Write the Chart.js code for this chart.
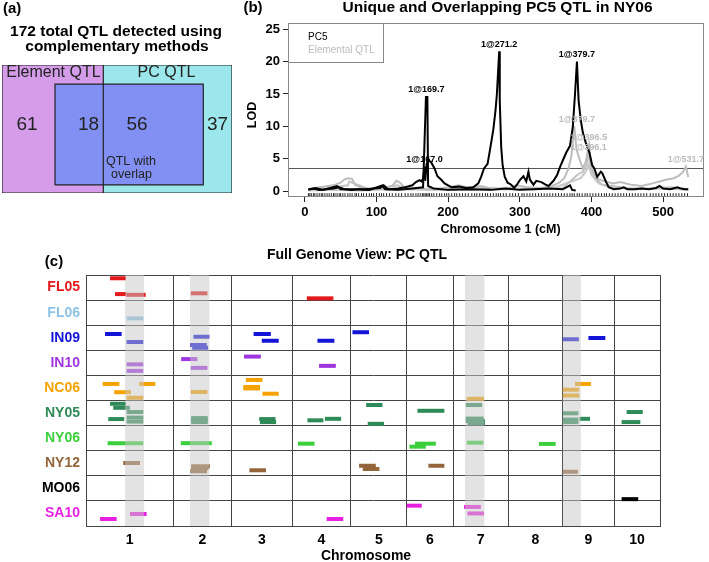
<!DOCTYPE html>
<html>
<head>
<meta charset="utf-8">
<script src="https://cdn.jsdelivr.net/npm/chart.js@4.4.0/dist/chart.umd.min.js"></script>
<style>
  body { margin: 0; background: #fff; width: 709px; height: 562px; position: relative; overflow: hidden; }
  canvas { position: absolute; }
</style>
</head>
<body>
<canvas id="chartA" width="240" height="200" style="left:0;top:0"></canvas>
<canvas id="chartB" width="469" height="245" style="left:240px;top:0"></canvas>
<canvas id="chartC" width="709" height="317" style="left:0;top:245px"></canvas>
<script>
// ---------- panel (a): QTL counts ----------
const vennGroups = ["Element QTL", "PC QTL"];
const vennCounts = [61, 18, 56, 37];

// ---------- panel (b): LOD curves on chromosome 1 ----------
const pc5Pos = [5, 12, 20, 30, 40, 48, 55, 65, 75, 85, 95, 105, 110, 116, 130, 140, 150, 155, 160, 163, 165, 167, 168, 170, 172, 176, 181, 185, 190, 195, 200, 205, 215, 225, 235, 242, 246, 250, 255, 259, 263, 266, 268, 271.2, 272, 274, 276, 279, 283, 288, 292, 296, 300, 305, 309, 312, 314, 319, 323, 330, 336, 340, 347, 352, 356, 361, 365, 370, 374, 377, 379.7, 382, 385, 388, 392, 397, 401, 404, 408, 413, 415, 420, 424, 431, 440, 445, 450, 460, 470, 480, 490, 495, 500, 510, 520, 525, 530, 535];
const pc5Lod = [0.3, 0.4, 0.2, 0.3, 0.4, 0.6, 0.3, 0.2, 0.3, 0.3, 0.4, 0.5, 0.9, 0.3, 0.4, 0.6, 0.9, 1.4, 1.7, 1.5, 2.0, 3.8, 1.6, 4.2, 4.8, 4.5, 3.5, 2.3, 1.8, 1.2, 0.9, 0.6, 0.7, 0.5, 0.6, 1.2, 2.2, 3.5, 4.2, 6.8, 9.5, 12.4, 15.0, 21.6, 14.0, 6.8, 4.0, 2.2, 1.3, 1.0, 0.5, 1.0, 1.7, 2.3, 1.5, 3.0, 1.8, 1.0, 1.6, 1.4, 1.0, 0.8, 1.6, 2.5, 3.7, 5.0, 6.0, 7.0, 10.0, 15.0, 20.0, 14.0, 11.0, 9.0, 7.5, 6.0, 4.0, 3.5, 2.2, 3.0, 2.8, 1.5, 0.6, 0.3, 0.4, 0.6, 0.3, 0.3, 0.4, 0.3, 0.5, 0.8, 0.4, 0.3, 0.6, 0.4, 0.3, 0.3];
const pc5bPos = [5, 15, 25, 45, 50, 70, 90, 108, 112, 130, 150, 165, 169, 171, 172, 180, 200, 230, 260, 280, 300, 320, 340, 360, 370, 373, 378];
const pc5bLod = [0.2, 0.5, 0.2, 0.8, 0.3, 0.3, 0.2, 0.9, 0.3, 0.2, 0.4, 0.6, 14.55, 14.55, 0.8, 0.4, 0.2, 0.3, 0.2, 0.4, 0.2, 0.3, 0.4, 0.3, 0.9, 0.2, 0.1];
const elem1Pos = [5, 20, 40, 50, 55, 60, 66, 70, 80, 95, 110, 122, 128, 133, 140, 160, 180, 200, 215, 230, 245, 260, 280, 295, 310, 330, 345, 355, 362, 368, 372, 376, 379, 383, 388, 392, 396.5, 399, 404, 410, 420, 430, 440, 455, 470, 485, 495, 505, 515, 522, 528, 531.7, 535];
const elem1Lod = [0.3, 0.6, 0.9, 1.3, 1.8, 2.0, 1.9, 1.0, 0.5, 0.3, 0.4, 0.8, 1.6, 1.3, 0.5, 0.4, 0.3, 0.6, 0.9, 0.5, 0.8, 0.4, 0.3, 0.9, 0.6, 0.5, 0.8, 1.3, 2.0, 3.5, 5.5, 10.0, 6.5, 5.0, 3.5, 4.5, 7.2, 4.0, 2.5, 1.8, 1.5, 1.2, 1.4, 1.0, 0.8, 1.2, 1.5, 1.8, 2.0, 2.4, 3.0, 3.8, 2.2];
const elem2Pos = [5, 30, 60, 62, 90, 130, 135, 170, 210, 250, 290, 330, 360, 370, 380, 388, 393, 396.1, 399, 405, 415, 430, 450, 480, 510, 535];
const elem2Lod = [0.2, 0.4, 0.9, 1.5, 0.3, 0.9, 0.6, 0.2, 0.3, 0.5, 0.4, 0.3, 0.5, 1.5, 2.5, 3.0, 4.0, 5.7, 3.5, 2.0, 1.0, 0.8, 0.5, 0.4, 0.6, 0.3];
const elem3Pos = [5, 40, 80, 120, 200, 300, 350, 372, 385, 392, 396, 400, 410, 425, 460, 500, 535];
const elem3Lod = [0.1, 0.2, 0.1, 0.3, 0.2, 0.3, 0.6, 1.5, 2.0, 3.0, 4.0, 2.5, 1.2, 0.6, 0.3, 0.4, 0.2];
const markerPos = [5, 7, 9, 12, 14, 17, 20, 23, 25, 28, 31, 34, 37, 40, 42, 45, 48, 50, 53, 56, 60, 63, 66, 70, 72, 75, 79, 82, 86, 90, 93, 96, 100, 104, 107, 110, 114, 118, 122, 127, 131, 135, 140, 144, 148, 151, 155, 158, 161, 164, 166, 168, 170, 172, 174, 177, 180, 184, 188, 191, 195, 198, 201, 205, 209, 212, 216, 220, 224, 228, 233, 237, 240, 244, 248, 252, 255, 259, 263, 267, 270, 273, 277, 281, 286, 290, 294, 298, 303, 306, 310, 314, 318, 322, 326, 330, 334, 338, 342, 346, 350, 354, 358, 362, 366, 370, 373, 376, 380, 383, 387, 391, 394, 398, 402, 406, 410, 414, 418, 421, 425, 429, 433, 437, 441, 445, 449, 453, 457, 461, 465, 469, 473, 477, 482, 486, 490, 494, 498, 502, 506, 510, 514, 518, 522, 526, 530, 534];
const lodThreshold = 3.5;
const pc5PeakNames = ["1@169.7", "1@167.0", "1@271.2", "1@379.7"];
const pc5PeakPos = [169.7, 167.0, 271.2, 379.7];
const pc5PeakLod = [14.55, 3.8, 21.6, 20.0];
const elemPeakNames = ["1@379.7", "1@396.5", "1@396.1", "1@531.7"];
const elemPeakPos = [379.7, 396.5, 396.1, 531.7];
const elemPeakLod = [10.0, 7.2, 5.7, 3.8];
const lodTicks = [0, 5, 10, 15, 20, 25];
const cmTicks = [0, 100, 200, 300, 400, 500];

// ---------- panel (c): PC QTL across the genome ----------
const traits = ["FL05", "FL06", "IN09", "IN10", "NC06", "NY05", "NY06", "NY12", "MO06", "SA10"];
const chromNames = ["1", "2", "3", "4", "5", "6", "7", "8", "9", "10"];
const chromLen = [540, 364, 374, 364, 347, 287, 341, 339, 318, 285];
const overlapChrom = [1, 2, 7, 9];
const overlapStart = [242, 105, 74, 0];
const overlapEnd = [360, 225, 194, 112];
// [chromosome, start cM, end cM, place in row]
const qtlFL05 = [[1, 149, 248, 0.13], [1, 180, 250, 0.76], [1, 250, 370, 0.79], [2, 110, 213, 0.73], [4, 91, 256, 0.93]];
const qtlFL06 = [[1, 252, 355, 0.73]];
const qtlIN09 = [[1, 118, 221, 0.35], [1, 252, 355, 0.67], [2, 126, 225, 0.46], [2, 105, 209, 0.79], [2, 118, 217, 0.9], [3, 135, 242, 0.35], [3, 186, 291, 0.62], [4, 157, 262, 0.62], [5, 10, 113, 0.28], [9, 0, 100, 0.56], [9, 159, 264, 0.51]];
const qtlIN10 = [[1, 252, 355, 0.56], [1, 252, 355, 0.82], [2, 50, 151, 0.35], [2, 110, 213, 0.7], [3, 76, 180, 0.25], [4, 167, 271, 0.62]];
const qtlNC06 = [[1, 103, 207, 0.34], [1, 330, 430, 0.34], [1, 175, 279, 0.67], [1, 252, 355, 0.89], [2, 110, 213, 0.66], [3, 87, 190, 0.18], [3, 72, 175, 0.46], [3, 72, 175, 0.52], [3, 190, 291, 0.73], [7, 85, 192, 0.93], [9, 76, 175, 0.34], [9, 0, 102, 0.57], [9, 0, 102, 0.8]];
const qtlNY05 = [[1, 149, 248, 0.13], [1, 169, 273, 0.29], [1, 252, 355, 0.46], [1, 138, 237, 0.74], [1, 252, 355, 0.68], [1, 252, 355, 0.84], [2, 112, 215, 0.7], [2, 112, 215, 0.78], [2, 112, 215, 0.86], [3, 170, 271, 0.74], [3, 175, 275, 0.86], [4, 95, 194, 0.79], [4, 203, 304, 0.73], [5, 95, 196, 0.18], [5, 105, 206, 0.93], [6, 66, 233, 0.41], [7, 79, 180, 0.18], [7, 79, 190, 0.72], [7, 79, 198, 0.82], [7, 90, 198, 0.9], [9, 0, 97, 0.51], [9, 0, 97, 0.76], [9, 0, 97, 0.86], [9, 103, 169, 0.73], [10, 78, 178, 0.46], [10, 47, 163, 0.86]];
const qtlNY06 = [[1, 134, 355, 0.7], [2, 48, 240, 0.7], [4, 36, 139, 0.72], [6, 16, 118, 0.84], [6, 51, 180, 0.72], [7, 85, 188, 0.68], [8, 192, 295, 0.73]];
const qtlNY12 = [[1, 231, 335, 0.49], [2, 112, 229, 0.62], [2, 112, 220, 0.7], [2, 105, 210, 0.82], [3, 109, 212, 0.78], [5, 51, 155, 0.6], [5, 74, 177, 0.73], [6, 134, 233, 0.6], [9, 0, 94, 0.84]];
const qtlMO06 = [[10, 47, 150, 0.93]];
const qtlSA10 = [[1, 87, 190, 0.72], [1, 273, 376, 0.52], [4, 214, 317, 0.72], [6, 0, 93, 0.19], [7, 68, 172, 0.24], [7, 89, 192, 0.5]];

const qtlSets = [qtlFL05, qtlFL06, qtlIN09, qtlIN10, qtlNC06, qtlNY05, qtlNY06, qtlNY12, qtlMO06, qtlSA10];
const traitColors = ["#e31a1c", "#8ec3e6", "#1414d8", "#a035e0", "#f5a300", "#2e8b57", "#3ccf3c", "#94643a", "#000000", "#e81ee0"];

const FONT = "'Liberation Sans', Arial, sans-serif";
Chart.defaults.font.family = FONT;
Chart.defaults.color = "#000";

function rect(x0, y0, x1, y1) {
  return [{ x: x0, y: y0 }, { x: x1, y: y0 }, { x: x1, y: y1 }, { x: x0, y: y1 }, { x: x0, y: y0 }];
}
function toPoints(xs, ys) {
  return xs.map((x, i) => ({ x: x, y: ys[i] }));
}

// draws a list of texts; items with data:true are placed through the scales
function textPlugin(getItems) {
  return {
    id: "texts",
    afterDraw(chart) {
      const ctx = chart.ctx;
      getItems(chart).forEach((t) => {
        let x = t.x, y = t.y;
        if (t.data) {
          x = chart.scales.x.getPixelForValue(t.x);
          y = chart.scales.y.getPixelForValue(t.y) + (t.dy || 0);
        }
        ctx.save();
        ctx.font = t.font;
        ctx.fillStyle = t.color || "#000";
        ctx.textAlign = t.align || "center";
        ctx.textBaseline = "middle";
        ctx.translate(x, y);
        if (t.rotate) ctx.rotate(t.rotate);
        ctx.fillText(t.text, 0, 0);
        ctx.restore();
      });
    },
  };
}

//////////////////// Panel (a) ////////////
new Chart(document.getElementById("chartA"), {
  type: "line",
  data: {
    datasets: [
      { data: [{ x: 0, y: 0 }, { x: 230, y: 0 }, { x: 230, y: 127 }, { x: 0, y: 127 }, { x: 0, y: 0 }], borderColor: "#222", borderWidth: 1.2, fill: false },
      { data: [{ x: 101.3, y: 0 }, { x: 101.3, y: 127 }], borderColor: "#222", borderWidth: 1.2, fill: false },
      { data: rect(53, 8, 201.3, 108), borderColor: "#222", borderWidth: 1.2, backgroundColor: "#8190f2", fill: "shape" },
      { data: rect(101.3, 0, 230, 127), borderColor: "rgba(0,0,0,0)", backgroundColor: "#9be7eb", fill: "shape" },
      { data: rect(0, 0, 101.3, 127), borderColor: "rgba(0,0,0,0)", backgroundColor: "#d49ce9", fill: "shape" },
    ],
  },
  options: {
    responsive: false,
    animation: false,
    devicePixelRatio: 1,
    layout: { padding: { left: 2, right: 8, top: 65, bottom: 7 } },
    elements: { point: { radius: 0 }, line: { tension: 0 } },
    scales: {
      x: { type: "linear", min: 0, max: 230, display: false },
      y: { type: "linear", min: 0, max: 127, display: false },
    },
    plugins: { legend: { display: false }, tooltip: { enabled: false } },
  },
  plugins: [
    textPlugin(() => [
      { text: "(a)", x: 3, y: 9, font: "bold 15px " + FONT, align: "left" },
      { text: "172 total QTL detected using", x: 116, y: 32, font: "bold 15.5px " + FONT },
      { text: "complementary methods", x: 117, y: 47, font: "bold 15.5px " + FONT },
      { text: vennGroups[0], x: 51.5, y: 119.5, data: true, font: "16px " + FONT, color: "#222" },
      { text: vennGroups[1], x: 164.5, y: 119.5, data: true, font: "16px " + FONT, color: "#222" },
      { text: String(vennCounts[0]), x: 25, y: 68, data: true, font: "19px " + FONT, color: "#222" },
      { text: String(vennCounts[1]), x: 86.5, y: 68, data: true, font: "19px " + FONT, color: "#222" },
      { text: String(vennCounts[2]), x: 135, y: 68, data: true, font: "19px " + FONT, color: "#222" },
      { text: String(vennCounts[3]), x: 215.5, y: 68, data: true, font: "19px " + FONT, color: "#222" },
      { text: "QTL with", x: 104, y: 31.3, data: true, font: "12.5px " + FONT, align: "left", color: "#222" },
      { text: "overlap", x: 109, y: 18, data: true, font: "12.5px " + FONT, align: "left", color: "#222" },
    ]),
  ],
});

//////////////////// Panel (b) ////////////
const frameB = {
  id: "frameB",
  afterDatasetsDraw(chart) {
    const { ctx, chartArea: a } = chart;
    ctx.save();
    ctx.strokeStyle = "#888";
    ctx.lineWidth = 1;
    ctx.strokeRect(a.left + 0.5, a.top + 0.5, a.right - a.left - 1, a.bottom - a.top - 1);
    ctx.fillStyle = "#fff";
    ctx.fillRect(a.left + 1, a.top + 1, 94, 38);
    ctx.strokeRect(a.left + 0.5, a.top + 0.5, 95, 39);
    ctx.font = "10px " + FONT;
    ctx.textBaseline = "middle";
    ctx.textAlign = "left";
    ctx.fillStyle = "#000";
    ctx.fillText("PC5", a.left + 20, a.top + 14);
    ctx.fillStyle = "#bbb";
    ctx.fillText("Elemental QTL", a.left + 20, a.top + 27);
    ctx.restore();
  },
};

new Chart(document.getElementById("chartB"), {
  type: "line",
  data: {
    datasets: [
      { label: "PC5", data: toPoints(pc5Pos, pc5Lod), borderColor: "#000", borderWidth: 2 },
      { label: "PC5", data: toPoints(pc5bPos, pc5bLod), borderColor: "#000", borderWidth: 2 },
      { label: "Elemental QTL", data: toPoints(elem1Pos, elem1Lod), borderColor: "#bdbdbd", borderWidth: 2 },
      { label: "Elemental QTL", data: toPoints(elem2Pos, elem2Lod), borderColor: "#c4c4c4", borderWidth: 2 },
      { label: "Elemental QTL", data: toPoints(elem3Pos, elem3Lod), borderColor: "#c8c8c8", borderWidth: 2 },
      { label: "threshold", data: [{ x: -23.5, y: lodThreshold }, { x: 557, y: lodThreshold }], borderColor: "#555", borderWidth: 1 },
      {
        label: "markers",
        data: markerPos.map((m) => ({ x: m, y: -0.62 })),
        showLine: false,
        pointStyle: "line",
        rotation: 90,
        pointRadius: 2,
        pointBorderWidth: 1,
        pointBorderColor: "#222",
      },
    ],
  },
  options: {
    responsive: false,
    animation: false,
    devicePixelRatio: 1,
    layout: { padding: { left: 0, right: 1, top: 23, bottom: 0 } },
    elements: { point: { radius: 0 }, line: { tension: 0, fill: false } },
    scales: {
      x: {
        type: "linear",
        min: -23.5,
        max: 557,
        afterBuildTicks: (s) => { s.ticks = cmTicks.map((v) => ({ value: v })); },
        afterFit: (s) => { s.height = 48; },
        grid: { drawOnChartArea: false, drawTicks: true, tickLength: 5, color: "#222" },
        border: { display: false },
        ticks: { font: { size: 13, weight: "bold" }, padding: 3, maxRotation: 0, autoSkip: false },
      },
      y: {
        type: "linear",
        min: -0.9,
        max: 25.95,
        afterBuildTicks: (s) => { s.ticks = lodTicks.map((v) => ({ value: v })); },
        afterFit: (s) => { s.width = 48; },
        grid: { drawOnChartArea: false, drawTicks: true, tickLength: 5, color: "#222" },
        border: { display: false },
        ticks: { font: { size: 13, weight: "bold" }, padding: 3 },
      },
    },
    plugins: { legend: { display: false }, tooltip: { enabled: false } },
  },
  plugins: [
    frameB,
    textPlugin(() => {
      const items = [
        { text: "(b)", x: 13, y: 8, font: "bold 15px " + FONT },
        { text: "Unique and Overlapping PC5 QTL in NY06", x: 257.5, y: 8, font: "bold 15.5px " + FONT },
        { text: "Chromosome 1 (cM)", x: 260.5, y: 230, font: "bold 12.5px " + FONT },
        { text: "LOD", x: 13, y: 115, font: "bold 12.5px " + FONT, rotate: -Math.PI / 2 },
      ];
      elemPeakNames.forEach((n, i) => items.push({ text: n, x: elemPeakPos[i], y: elemPeakLod[i], dy: -7, data: true, font: "bold 9px " + FONT, color: "#bbb" }));
      pc5PeakNames.forEach((n, i) => items.push({ text: n, x: pc5PeakPos[i], y: pc5PeakLod[i], dy: -7, data: true, font: "bold 9px " + FONT, color: "#000" }));
      return items;
    }),
  ],
});

//////////////////// Panel (c) ////////////
const chromStart = [];
let total = 0;
chromLen.forEach((l) => { chromStart.push(total); total += l; });
const genomeLen = total;

const cDatasets = [];
overlapChrom.forEach((c, i) => {
  const x0 = chromStart[c - 1] + overlapStart[i];
  const x1 = chromStart[c - 1] + overlapEnd[i];
  cDatasets.push({ data: rect(x0, 0, x1, 10), fill: "shape", backgroundColor: "rgba(200,200,200,0.5)", borderColor: "rgba(0,0,0,0)", order: 0 });
});
qtlSets.forEach((set, r) => {
  set.forEach((q) => {
    const y = r + q[3];
    cDatasets.push({
      label: traits[r],
      data: [{ x: chromStart[q[0] - 1] + q[1], y: y }, { x: chromStart[q[0] - 1] + q[2], y: y }],
      borderColor: traitColors[r],
      borderWidth: 4,
      borderCapStyle: "butt",
      fill: false,
      order: 1,
    });
  });
});

new Chart(document.getElementById("chartC"), {
  type: "line",
  data: { datasets: cDatasets },
  options: {
    responsive: false,
    animation: false,
    devicePixelRatio: 1,
    layout: { padding: { left: 0, right: 49, top: 30, bottom: 0 } },
    elements: { point: { radius: 0 }, line: { tension: 0 } },
    scales: {
      x: {
        type: "linear",
        min: 0,
        max: genomeLen,
        afterBuildTicks: (s) => { s.ticks = chromStart.concat([genomeLen]).map((v) => ({ value: v })); },
        afterFit: (s) => { s.height = 0; },
        grid: { color: "#444", drawTicks: false },
        border: { color: "#444" },
        ticks: { display: false },
      },
      xl: {
        type: "linear",
        position: "bottom",
        min: 0,
        max: genomeLen,
        afterBuildTicks: (s) => { s.ticks = chromStart.map((v, i) => ({ value: v + chromLen[i] / 2 })); },
        afterFit: (s) => { s.height = 36; },
        grid: { display: false, drawTicks: false, tickLength: 0 },
        border: { display: false },
        ticks: { callback: (v, i) => chromNames[i], font: { size: 14, weight: "bold" }, padding: 6, maxRotation: 0, autoSkip: false },
      },
      y: {
        type: "linear",
        reverse: true,
        min: 0,
        max: 10,
        afterBuildTicks: (s) => { s.ticks = traits.concat([""]).map((t, i) => ({ value: i })); },
        afterFit: (s) => { s.width = 0; },
        grid: { color: "#444", drawTicks: false },
        border: { color: "#444" },
        ticks: { display: false },
      },
      yl: {
        type: "linear",
        position: "left",
        reverse: true,
        min: 0,
        max: 10,
        afterBuildTicks: (s) => { s.ticks = traits.map((t, i) => ({ value: i + 0.5 })); },
        afterFit: (s) => { s.width = 86; },
        grid: { display: false, drawTicks: false, tickLength: 0 },
        border: { display: false },
        ticks: {
          callback: (v, i) => traits[i],
          color: (c) => traitColors[c.index],
          font: { size: 14, weight: "bold" },
          padding: 6,
          autoSkip: false,
        },
      },
    },
    plugins: { legend: { display: false }, tooltip: { enabled: false } },
  },
  plugins: [
    textPlugin(() => [
      { text: "(c)", x: 54, y: 17, font: "bold 15px " + FONT },
      { text: "Full Genome View: PC QTL", x: 357, y: 10, font: "bold 14px " + FONT },
      { text: "Chromosome", x: 366, y: 311, font: "bold 14px " + FONT },
    ]),
  ],
});
</script>
</body>
</html>
